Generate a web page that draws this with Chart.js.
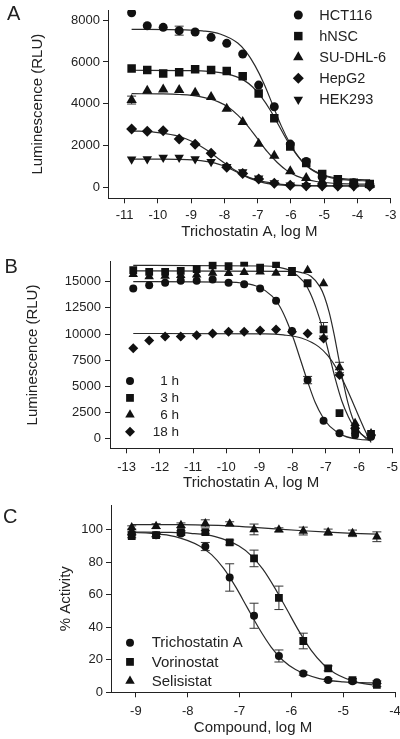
<!DOCTYPE html>
<html>
<head>
<meta charset="utf-8">
<script src="https://cdn.jsdelivr.net/npm/chart.js@4.4.1/dist/chart.umd.min.js"></script>
<style>
html, body { margin: 0; padding: 0; background: #fff; width: 400px; height: 739px; overflow: hidden; }
.panel { position: absolute; left: 0; width: 420px; }
.letter { position: absolute; font: 20px/20px "Liberation Sans", Arial, sans-serif; color: #222; z-index: 2; }
</style>
</head>
<body>
<div class="letter" style="left:7px;top:3px">A</div>
<div class="letter" style="left:4.5px;top:256px">B</div>
<div class="letter" style="left:3px;top:506px">C</div>
<div class="panel" style="top:-10px"><canvas id="chartA" width="420" height="255"></canvas></div>
<div class="panel" style="top:245px"><canvas id="chartB" width="420" height="251"></canvas></div>
<div class="panel" style="top:486px"><canvas id="chartC" width="420" height="255"></canvas></div>
<script>
// Panel A: cell lines, 16 point dilution of trichostatin A
const logA = [-10.79, -10.32, -9.84, -9.36, -8.88, -8.40, -7.93, -7.45, -6.97, -6.50, -6.02, -5.54, -5.06, -4.59, -4.11, -3.63];
const hct116 = [8360, 7735, 7660, 7500, 7435, 7180, 6890, 6380, 4890, 3850, 2060, 1230, 480, 300, 200, 120];
const hnsc = [5690, 5610, 5450, 5500, 5645, 5610, 5570, 5310, 4490, 3295, 1940, 1150, 620, 370, 210, 145];
const suDhl6 = [4170, 4620, 4680, 4650, 4520, 4320, 3760, 3120, 2080, 1500, 760, 430, 260, 200, 130, 100];
const hepg2 = [2780, 2680, 2700, 2300, 2050, 1620, 950, 650, 380, 180, 80, 60, 60, 50, 60, 50];
const hek293 = [1330, 1340, 1420, 1420, 1340, 1210, 970, 720, 420, 190, 80, 60, 50, 50, 40, 40];
const hct116Err = [0, 0, 0, 215, 0, 0, 0, 0, 0, 0, 0, 0, 0, 0, 0, 0];
const suDhl6Err = [190, 0, 0, 0, 0, 0, 0, 0, 0, 0, 0, 0, 0, 0, 0, 0];

const hctCurveX = [-10.79, -9.18, -8.66, -8.13, -7.60, -7.34, -7.08, -6.81, -6.55, -6.29, -6.02, -5.76, -5.50, -4.97, -4.45, -3.92, -3.63];
const hctCurveY = [7560, 7537, 7488, 7338, 6903, 6468, 5823, 4957, 3945, 2933, 2067, 1422, 987, 552, 402, 353, 342];
const nscCurveX = [-10.79, -8.99, -8.47, -7.94, -7.41, -7.15, -6.89, -6.62, -6.36, -6.10, -5.83, -5.57, -5.31, -4.78, -4.26, -3.73, -3.63];
const nscCurveY = [5600, 5583, 5547, 5437, 5116, 4797, 4322, 3685, 2940, 2195, 1558, 1083, 764, 443, 333, 297, 294];
const suCurveX = [-10.79, -9.94, -9.35, -8.77, -8.18, -7.88, -7.59, -7.29, -7.00, -6.71, -6.41, -6.12, -5.82, -5.24, -4.65, -4.06, -3.63];
const suCurveY = [4477, 4466, 4437, 4346, 4085, 3823, 3435, 2914, 2305, 1696, 1175, 787, 525, 264, 173, 144, 135];
const hepCurveX = [-10.79, -10.12, -9.48, -9.16, -8.84, -8.52, -8.20, -7.88, -7.56, -7.24, -6.92, -6.28, -5.64, -5.00, -3.63];
const hepCurveY = [2692, 2638, 2477, 2317, 2078, 1759, 1385, 1011, 692, 453, 293, 132, 76, 59, 50];
const hekCurveX = [-10.79, -9.87, -9.42, -8.96, -8.51, -8.28, -8.05, -7.83, -7.60, -7.37, -7.15, -6.92, -6.69, -6.24, -5.78, -5.33, -3.63];
const hekCurveY = [1340, 1336, 1327, 1300, 1223, 1145, 1030, 876, 695, 514, 360, 245, 167, 90, 63, 54, 50];

const ticksAx = [-11, -10, -9, -8, -7, -6, -5, -4, -3];
const ticksAy = [0, 2000, 4000, 6000, 8000];

// Panel B: incubation time
const logB = [-12.80, -12.32, -11.84, -11.37, -10.89, -10.41, -9.93, -9.46, -8.98, -8.50, -8.02, -7.55, -7.07, -6.59, -6.12, -5.64];
const h1 = [14350, 14670, 14890, 15080, 15080, 15210, 14890, 14760, 14350, 13170, 10300, 5600, 1720, 515, 350, 190];
const h3 = [16100, 15940, 15940, 16030, 16190, 16570, 16480, 16830, 16330, 16670, 16030, 14850, 10450, 2450, 830, 450];
const h6 = [15720, 15500, 15550, 15620, 15650, 15840, 15800, 15900, 15940, 15840, 15800, 16080, 14830, 6800, 1470, 500];
const h18 = [8650, 9370, 9760, 9760, 9890, 10060, 10210, 10210, 10330, 10440, 10210, 10060, 9580, 6080, 990, 350];
const h1Err = [0, 0, 0, 0, 0, 0, 0, 0, 0, 0, 0, 350, 0, 0, 0, 0];
const h3Err = [0, 0, 0, 0, 0, 0, 0, 0, 0, 0, 0, 0, 650, 0, 0, 0];
const h6Err = [0, 0, 0, 0, 0, 0, 0, 0, 0, 0, 0, 0, 0, 500, 0, 0];

const h1CurveX = [-12.80, -9.92, -9.49, -9.05, -8.62, -8.40, -8.19, -7.97, -7.75, -7.53, -7.32, -7.10, -6.88, -6.45, -6.01, -5.64];
const h1CurveY = [15000, 14951, 14850, 14533, 13618, 12705, 11347, 9528, 7400, 5272, 3453, 2095, 1182, 267, -50, -144];
const h3CurveX = [-12.80, -8.82, -8.44, -8.05, -7.67, -7.48, -7.29, -7.09, -6.90, -6.71, -6.52, -6.32, -6.13, -5.75, -5.64];
const h3CurveY = [16550, 16495, 16381, 16027, 14995, 13975, 12453, 10412, 8025, 5638, 3597, 2075, 1050, 23, -116];
const h6CurveX = [-12.80, -8.01, -7.73, -7.45, -7.18, -7.04, -6.90, -6.76, -6.62, -6.48, -6.34, -6.20, -6.06, -5.79, -5.64];
const h6CurveY = [16030, 15977, 15866, 15523, 14527, 13534, 12058, 10079, 7765, 5451, 3472, 1996, 1003, 7, -221];
const h18CurveX = [-12.80, -8.82, -8.28, -7.74, -7.21, -6.94, -6.67, -6.40, -6.13, -5.86, -5.64];
const h18CurveY = [10050, 10005, 9911, 9619, 8773, 7928, 6674, 4992, 3025, 1058, -360];

const ticksBx = [-13, -12, -11, -10, -9, -8, -7, -6, -5];
const ticksBy = [0, 2500, 5000, 7500, 10000, 12500, 15000];

// Panel C: % activity for three compounds
const logC = [-9.08, -8.61, -8.13, -7.66, -7.19, -6.72, -6.24, -5.77, -5.29, -4.82, -4.35];
const tsa = [97.5, 96.5, 97.5, 89.5, 70.5, 47, 22.3, 11.5, 7.5, 6.8, 6.2];
const vorinostat = [95.9, 96.5, 98.3, 98.3, 92, 82.2, 58, 31.5, 14.7, 7.5, 4.5];
const selisistat = [101.2, 102, 102.5, 103.7, 103.5, 100, 99.8, 99, 98.3, 97.6, 95.5];
const tsaErr = [1, 1, 1, 2.5, 8.4, 7.7, 3.7, 1, 0.8, 0.8, 0.8];
const vorErr = [1, 1, 1, 1, 1.5, 5.1, 7.2, 4.8, 1.5, 1, 1];
const selErr = [1, 1.5, 1.5, 2.2, 1.2, 3.3, 1.2, 2.4, 1.9, 2, 3];

const tsaCurveX = [-9.08, -8.70, -8.24, -7.78, -7.54, -7.31, -7.08, -6.85, -6.62, -6.39, -6.16, -5.92, -5.46, -5.00, -4.54, -4.35];
const tsaCurveY = [98.1, 97.6, 95.6, 90.0, 84.5, 76.2, 65.0, 52.0, 39.0, 27.8, 19.5, 14.0, 8.4, 6.4, 5.8, 5.7];
const vorCurveX = [-9.08, -8.40, -7.94, -7.47, -7.01, -6.78, -6.55, -6.32, -6.085, -5.85, -5.62, -5.39, -5.16, -4.70, -4.35];
const vorCurveY = [98.4, 98.2, 97.6, 95.6, 89.8, 84.1, 75.6, 64.1, 50.8, 37.4, 25.9, 17.4, 11.7, 5.9, 4.3];
const selCurveX = [-9.08, -8.13, -7.66, -7.19, -6.72, -6.24, -5.77, -5.29, -4.82, -4.35];
const selCurveY = [103, 102.9, 102.7, 102.2, 101.3, 100.2, 99.2, 98.3, 97.6, 97.1];

const ticksCx = [-9, -8, -7, -6, -5, -4];
const ticksCy = [0, 20, 40, 60, 80, 100];

const textColor = '#222';
const markColor = '#111';
const fontFamily = '"Liberation Sans", Arial, sans-serif';
Chart.defaults.font.family = fontFamily;
Chart.defaults.color = textColor;

function pts(xs, ys) {
    return xs.map(function (x, i) { return {x: x, y: ys[i]}; });
}

function markers(label, xs, ys, style, r, errs, rot) {
    return {
        label: label,
        data: pts(xs, ys),
        errors: errs,
        pointStyle: style,
        pointRadius: r,
        pointRotation: rot || 0,
        pointBorderWidth: 0,
        backgroundColor: markColor,
        borderColor: markColor,
        showLine: false,
        order: 0
    };
}

function curve(xs, ys) {
    return {
        data: pts(xs, ys),
        showLine: true,
        pointRadius: 0,
        borderColor: '#2a2a2a',
        borderWidth: 1.2,
        cubicInterpolationMode: 'monotone',
        fill: false,
        order: 1
    };
}

// error bars drawn under the markers
const errorBars = {
    id: 'errorBars',
    beforeDatasetsDraw: function (chart) {
        const ctx = chart.ctx;
        const xs = chart.scales.x, ys = chart.scales.y;
        ctx.save();
        ctx.strokeStyle = '#333';
        ctx.lineWidth = 1;
        chart.data.datasets.forEach(function (ds) {
            if (!ds.errors) return;
            ds.data.forEach(function (p, i) {
                const e = ds.errors[i];
                if (!e) return;
                const x = xs.getPixelForValue(p.x);
                const y1 = ys.getPixelForValue(p.y + e);
                const y2 = ys.getPixelForValue(p.y - e);
                ctx.beginPath();
                ctx.moveTo(x, y1); ctx.lineTo(x, y2);
                ctx.moveTo(x - 4.5, y1); ctx.lineTo(x + 4.5, y1);
                ctx.moveTo(x - 4.5, y2); ctx.lineTo(x + 4.5, y2);
                ctx.stroke();
            });
        });
        ctx.restore();
    }
};

// legend placed inside the plot like the original figure
const markerLegend = {
    id: 'markerLegend',
    afterDraw: function (chart, args, opts) {
        const ctx = chart.ctx;
        const items = chart.data.datasets.filter(function (ds) { return ds.label; });
        ctx.save();
        ctx.font = opts.size + 'px ' + fontFamily;
        ctx.textBaseline = 'middle';
        ctx.textAlign = opts.align;
        items.forEach(function (ds, i) {
            const y = opts.y + i * opts.gap;
            ctx.fillStyle = markColor;
            Chart.helpers.drawPoint(ctx, {pointStyle: ds.pointStyle, radius: ds.pointRadius, rotation: ds.pointRotation, borderWidth: 0}, opts.markerX, y);
            ctx.fillStyle = textColor;
            ctx.fillText(ds.label, opts.textX, y + 0.5);
        });
        ctx.restore();
    }
};

function scales(o) {
    return {
        x: {
            type: 'linear', position: 'bottom', min: o.xMin, max: o.xMax,
            afterFit: function (s) { s.height = o.xHeight; },
            afterBuildTicks: function (s) { s.ticks = o.xTicks.map(function (v) { return {value: v}; }); },
            grid: {drawOnChartArea: false, tickLength: 5, color: textColor},
            border: {color: textColor},
            ticks: {font: {size: 13}, padding: o.xPad, color: textColor, maxRotation: 0, autoSkip: false,
                    callback: function (v) { return String(v); }},
            title: {display: true, text: o.xTitle, font: {size: 15}, color: textColor, padding: {top: 4, bottom: 4}}
        },
        y: {
            type: 'linear', position: 'left', min: o.yMin, max: o.yMax,
            afterFit: function (s) { s.width = o.yWidth; },
            afterBuildTicks: function (s) { s.ticks = o.yTicks.map(function (v) { return {value: v}; }); },
            grid: {drawOnChartArea: false, tickLength: 5, color: textColor},
            border: {color: textColor},
            ticks: {font: {size: 13}, padding: o.yPad, color: textColor, autoSkip: false,
                    callback: function (v) { return String(v); }},
            title: {display: true, text: o.yTitle, font: {size: 15}, color: textColor, padding: {top: 4, bottom: 4}}
        }
    };
}

function panel(id, datasets, sc, pad, legend) {
    return new Chart(document.getElementById(id), {
        type: 'scatter',
        data: {datasets: datasets},
        options: {
            responsive: false,
            animation: false,
            events: [],
            layout: {padding: pad},
            scales: scales(sc),
            plugins: {legend: {display: false}, tooltip: {enabled: false}, markerLegend: legend}
        },
        plugins: [errorBars, markerLegend]
    });
}

panel('chartA', [
    markers('HCT116', logA, hct116, 'circle', 4.5, hct116Err),
    markers('hNSC', logA, hnsc, 'rect', 6),
    markers('SU-DHL-6', logA, suDhl6, 'triangle', 6, suDhl6Err),
    markers('HepG2', logA, hepg2, 'rectRot', 5.5),
    markers('HEK293', logA, hek293, 'triangle', 5.5, null, 180),
    curve(hctCurveX, hctCurveY),
    curve(nscCurveX, nscCurveY),
    curve(suCurveX, suCurveY),
    curve(hepCurveX, hepCurveY),
    curve(hekCurveX, hekCurveY)
], {
    xMin: -11.5, xMax: -3, xTicks: ticksAx, xHeight: 46.7, xPad: 4, xTitle: 'Trichostatin A, log M',
    yMin: -540, yMax: 8490, yTicks: ticksAy, yWidth: 83, yPad: 3, yTitle: 'Luminescence (RLU)'
}, {left: 25, top: 20, right: 29.3, bottom: 0},
{markerX: 298.3, textX: 319.3, y: 25, gap: 21.1, size: 14.5, align: 'left'});

panel('chartB', [
    markers('1 h', logB, h1, 'circle', 4, h1Err),
    markers('3 h', logB, h3, 'rect', 5.5, h3Err),
    markers('6 h', logB, h6, 'triangle', 5.5, h6Err),
    markers('18 h', logB, h18, 'rectRot', 5),
    curve(h1CurveX, h1CurveY),
    curve(h3CurveX, h3CurveY),
    curve(h6CurveX, h6CurveY),
    curve(h18CurveX, h18CurveY)
], {
    xMin: -13.5, xMax: -5, xTicks: ticksBx, xHeight: 47.7, xPad: 6, xTitle: 'Trichostatin A, log M',
    yMin: -916, yMax: 16908, yTicks: ticksBy, yWidth: 90, yPad: 4, yTitle: 'Luminescence (RLU)'
}, {left: 20, top: 16.7, right: 27.7, bottom: 0},
{markerX: 130, textX: 179, y: 136, gap: 16.9, size: 13.5, align: 'right'});

panel('chartC', [
    markers('Trichostatin A', logC, tsa, 'circle', 4, tsaErr),
    markers('Vorinostat', logC, vorinostat, 'rect', 5.5, vorErr),
    markers('Selisistat', logC, selisistat, 'triangle', 5.5, selErr),
    curve(tsaCurveX, tsaCurveY),
    curve(vorCurveX, vorCurveY),
    curve(selCurveX, selCurveY)
], {
    xMin: -9.48, xMax: -4, xTicks: ticksCx, xHeight: 48.7, xPad: 6.5, xTitle: 'Compound, log M',
    yMin: 0, yMax: 115, yTicks: ticksCy, yWidth: 58, yPad: 3, yTitle: '% Activity'
}, {left: 53, top: 19, right: 25, bottom: 0},
{markerX: 130, textX: 151.7, y: 156.7, gap: 19.2, size: 15, align: 'left'});
</script>
</body>
</html>
